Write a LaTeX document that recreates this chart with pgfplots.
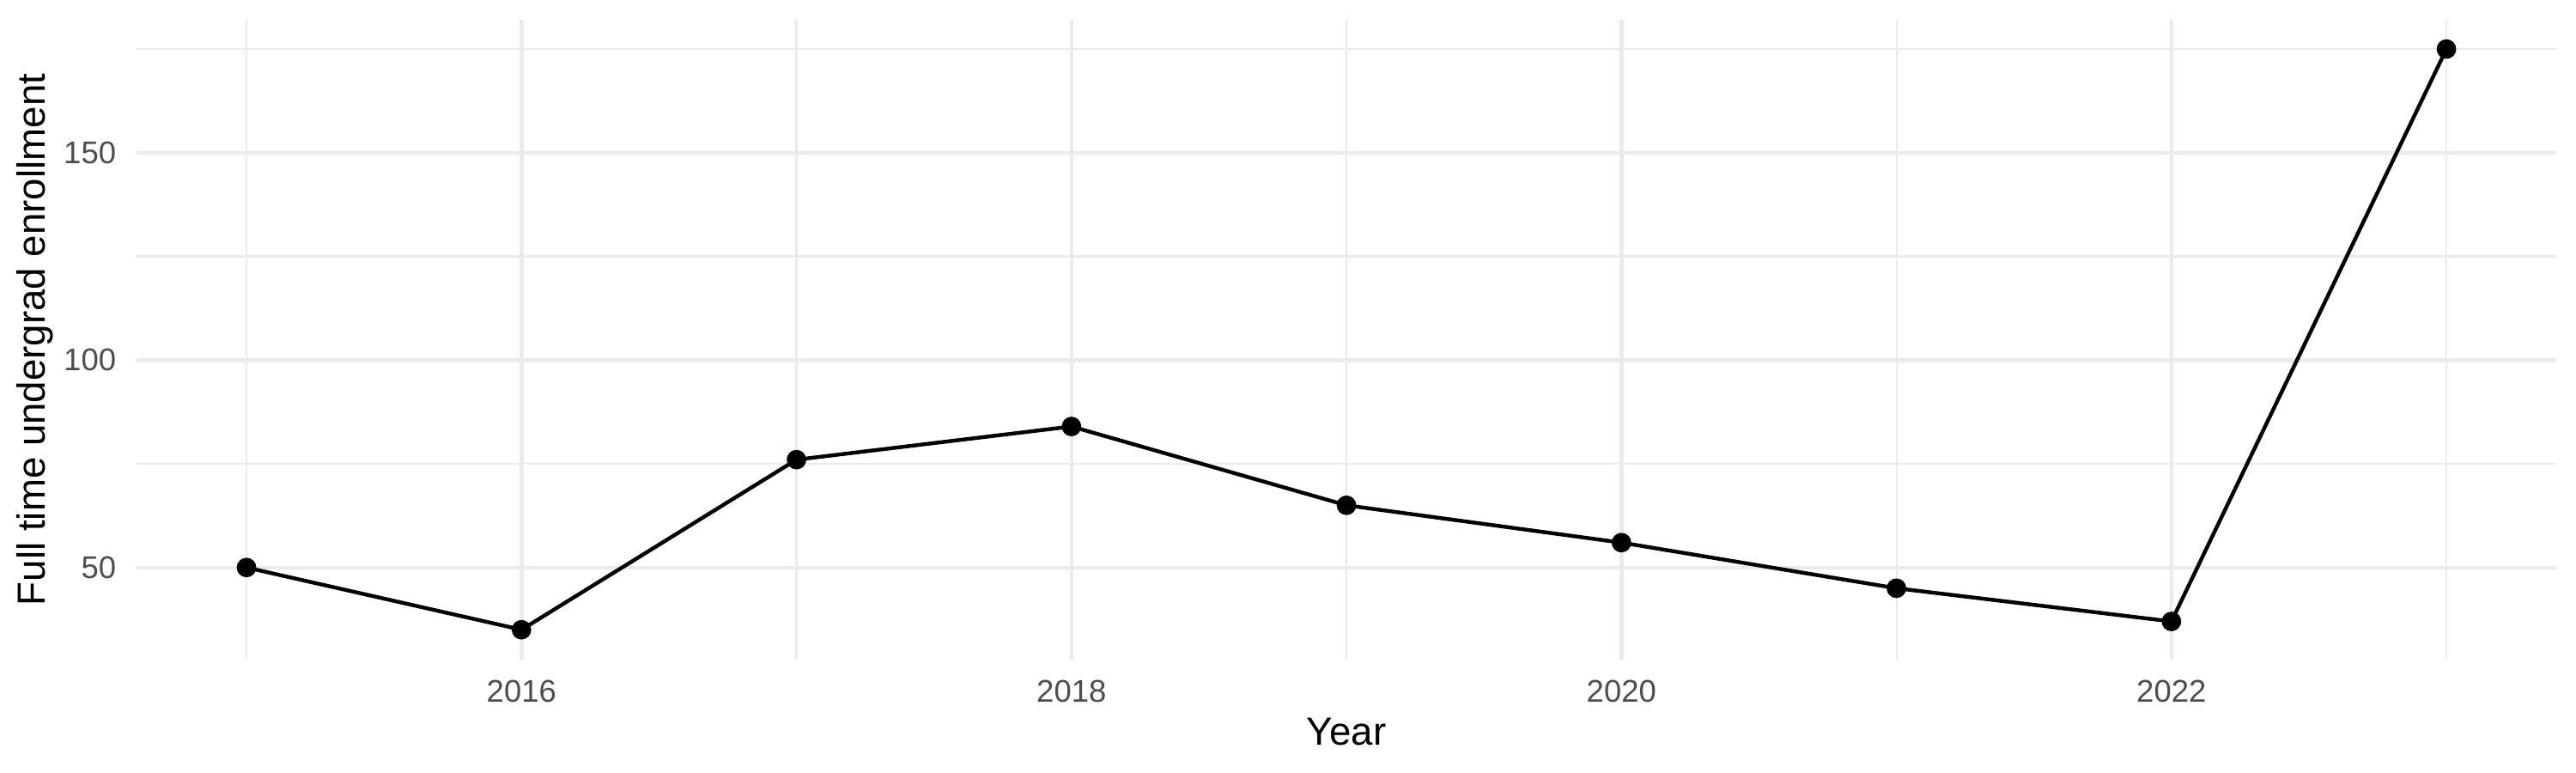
\documentclass[border=0pt]{standalone}
\usepackage{pgfplots}
\pgfplotsset{compat=1.18}
\usepackage{fontspec}
\setmainfont{Liberation Sans}
\definecolor{gridgray}{HTML}{EBEBEB}
\definecolor{ticktext}{HTML}{4D4D4D}
\begin{document}
\begin{tikzpicture}
\useasboundingbox (-38.3pt,-31.8pt) rectangle (684.4pt,185pt);
\begin{axis}[
at={(0,0)}, anchor=south west,
scale only axis,
width=678.9pt, height=179.5pt,
xmin=2014.6, xmax=2023.4,
ymin=27.8, ymax=182.1,
axis line style={draw=none},
major tick length=0pt, minor tick length=0pt,
xtick={2016,2018,2020,2022},
minor xtick={2015,2017,2019,2021,2023},
ytick={50,100,150},
minor ytick={75,125,175},
grid=both,
major grid style={color=gridgray, line width=1.07pt},
minor grid style={color=gridgray, line width=0.53pt},
/pgf/number format/assume math mode=true,
/pgf/number format/1000 sep={},
ticklabel style={font=\fontsize{8.8}{10}\selectfont, text=ticktext},
xticklabel style={yshift=-2.2pt},
yticklabel style={xshift=-2.2pt},
xlabel={Year},
ylabel={Full time undergrad enrollment},
label style={font=\fontsize{11}{13}\selectfont},
xlabel style={at={(axis description cs:0.5,-0.1126)}, anchor=center},
ylabel style={at={(axis description cs:-0.0421,0.5)}, anchor=center},
]
\addplot[black, line width=1.07pt, mark=*, mark size=2.2pt] coordinates {
(2015,50) (2016,35) (2017,76) (2018,84) (2019,65) (2020,56) (2021,45) (2022,37) (2023,175)
};
\end{axis}
\end{tikzpicture}
\end{document}
